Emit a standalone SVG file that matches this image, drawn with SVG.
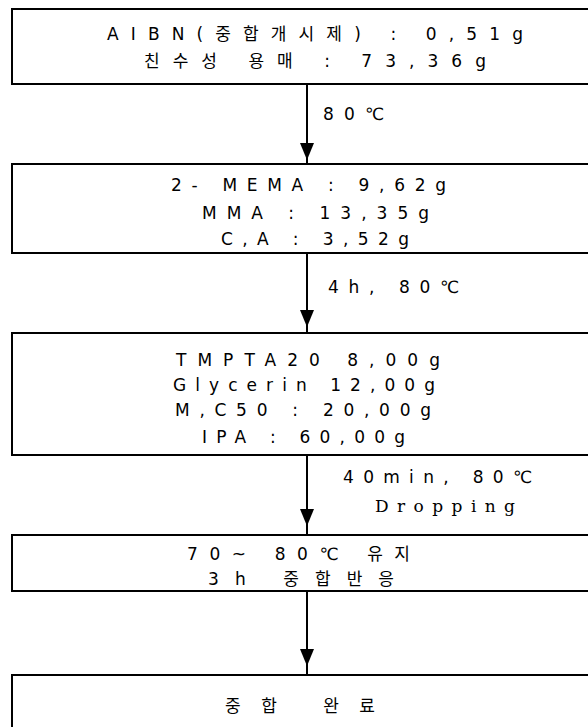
<svg xmlns="http://www.w3.org/2000/svg" width="588" height="727" viewBox="0 0 588 727">
<style>
.box{fill:#fff;stroke:#000;stroke-width:2}
.t{font-family:"DejaVu Sans","Noto Sans CJK KR",sans-serif;font-size:17px;fill:#000}
.s{font-family:"DejaVu Serif","Noto Sans CJK KR",serif;font-size:17px;fill:#000}
.ln{stroke:#000;stroke-width:2;fill:none}
.hd{fill:#000}
</style>
<rect width="588" height="727" fill="#fff"/>
<g id="connectors">
<line class="ln" x1="307" y1="84" x2="307" y2="164"/>
<polygon class="hd" points="300,143 314,143 307,160"/>
<line class="ln" x1="307" y1="253" x2="307" y2="333"/>
<polygon class="hd" points="300,310 314,310 307,327"/>
<line class="ln" x1="307" y1="455" x2="307" y2="535"/>
<polygon class="hd" points="300,509 314,509 307,526"/>
<line class="ln" x1="307" y1="591" x2="307" y2="675"/>
<polygon class="hd" points="300,649 314,649 307,666"/>
<text class="t" x="323" y="120" textLength="61" lengthAdjust="spacing">80℃</text>
<text class="t" x="328" y="293" textLength="131" lengthAdjust="spacing">4h, 80℃</text>
<text class="t" x="343" y="483" textLength="189" lengthAdjust="spacing">40min, 80℃</text>
<text class="s" x="375" y="512" textLength="140" lengthAdjust="spacing">Dropping</text>
</g>
<g id="n1">
<rect class="box" x="12" y="9" width="600" height="75"/>
<text class="t" x="107" y="40" textLength="416" lengthAdjust="spacing">AIBN(중합개시제) : 0,51g</text>
<text class="t" x="144" y="67" textLength="342" lengthAdjust="spacing">친수성 용매 : 73,36g</text>
</g>
<g id="n2">
<rect class="box" x="12" y="164" width="600" height="89"/>
<text class="t" x="171" y="191" textLength="275" lengthAdjust="spacing">2- MEMA : 9,62g</text>
<text class="t" x="202" y="219" textLength="227" lengthAdjust="spacing">MMA : 13,35g</text>
<text class="t" x="221" y="245" textLength="188" lengthAdjust="spacing">C,A : 3,52g</text>
</g>
<g id="n3">
<rect class="box" x="12" y="333" width="600" height="122"/>
<text class="t" x="176" y="366" textLength="264" lengthAdjust="spacing">TMPTA20 8,00g</text>
<text class="t" x="173" y="391" textLength="262" lengthAdjust="spacing">Glycerin 12,00g</text>
<text class="t" x="175" y="416" textLength="256" lengthAdjust="spacing">M,C50 : 20,00g</text>
<text class="t" x="202" y="443" textLength="203" lengthAdjust="spacing">IPA : 60,00g</text>
</g>
<g id="n4">
<rect class="box" x="12" y="535" width="600" height="56"/>
<text class="t" x="187" y="560" textLength="223" lengthAdjust="spacing">70~ 80℃  유지</text>
<text class="t" x="208" y="585" textLength="186" lengthAdjust="spacing">3h 중합반응</text>
</g>
<g id="n5">
<rect class="box" x="12" y="675" width="600" height="70"/>
<text class="t" x="225" y="712" textLength="150" lengthAdjust="spacing">중합 완료</text>
</g>
</svg>
